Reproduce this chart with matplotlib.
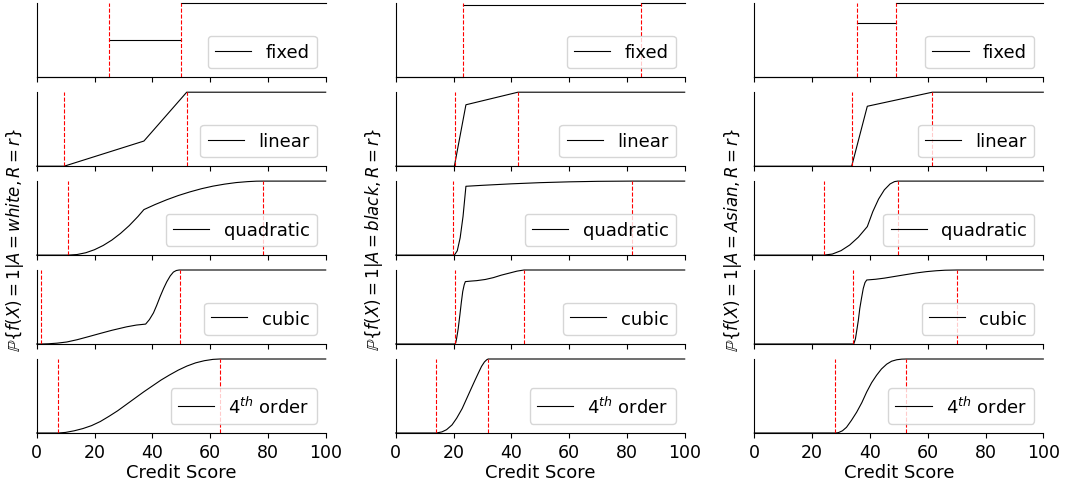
import matplotlib
matplotlib.use('Agg')
import matplotlib.pyplot as plt

NAN = float('nan')

CURVE_LABELS = ['fixed', 'linear', 'quadratic', 'cubic', r'$4^{th}$ order']
GROUPS = ['white', 'black', 'Asian']
X_TICKS = [0, 20, 40, 60, 80, 100]

# ---------------- white ----------------
WHITE_FIXED_X = [0, 25, NAN, 25, 50, NAN, 50, 100]
WHITE_FIXED_Y = [0, 0, NAN, 0.5, 0.5, NAN, 1, 1]
WHITE_LINEAR_X = [0, 9.5, 37.1, 51.9, 100]
WHITE_LINEAR_Y = [0, 0, 0.34, 1, 1]
WHITE_QUAD_X = [0, 11, 14, 17, 20, 23, 26, 29, 32, 35, 37.1, 41, 45, 49, 53, 57, 61, 65, 69, 73, 76, 78.4, 100]
WHITE_QUAD_Y = [0, 0, 0.008, 0.032, 0.073, 0.130, 0.203, 0.293, 0.398, 0.520, 0.615, 0.684, 0.748, 0.805,
                0.854, 0.897, 0.932, 0.959, 0.980, 0.993, 0.999, 1, 1]
WHITE_CUBIC_X = [0, 1.4, 4, 7, 10.4, 14, 18, 21.9, 26, 31.1, 34.5, 37.7, 39, 40.4, 41.5, 42.7, 43.9, 45, 46.2,
                 47.3, 48.3, 49.3, 100]
WHITE_CUBIC_Y = [0, 0, 0.003, 0.011, 0.027, 0.058, 0.1, 0.142, 0.185, 0.232, 0.256, 0.269, 0.33, 0.42, 0.52,
                 0.64, 0.75, 0.84, 0.92, 0.972, 0.993, 1, 1]
WHITE_QUART_X = [0, 7.5, 10, 13, 16, 19, 22, 25, 28, 31, 34, 37, 40, 43, 46, 49, 52, 55, 58, 61, 63.4, 100]
WHITE_QUART_Y = [0, 0, 0.008, 0.03, 0.06, 0.1, 0.155, 0.225, 0.3, 0.385, 0.47, 0.555, 0.635, 0.715, 0.785,
                 0.85, 0.905, 0.948, 0.977, 0.995, 1, 1]
WHITE_THRESHOLDS = [[25, 50], [9.5, 51.9], [10.9, 78.4], [1.4, 49.5], [7.5, 63.4]]

# ---------------- black ----------------
BLACK_FIXED_X = [0, 23.4, NAN, 23.4, 85, NAN, 85, 100]
BLACK_FIXED_Y = [0, 0, NAN, 0.977, 0.977, NAN, 1, 1]
BLACK_LINEAR_X = [0, 20.3, 24.3, 42.3, 100]
BLACK_LINEAR_Y = [0, 0, 0.83, 1, 1]
BLACK_QUAD_X = [0, 20.3, 21.3, 22.3, 23.3, 24.3, 30, 40, 50, 60, 70, 81.9, 100]
BLACK_QUAD_Y = [0, 0, 0.058, 0.233, 0.523, 0.93, 0.943, 0.963, 0.979, 0.990, 0.997, 1, 1]
BLACK_CUBIC_X = [0, 20.5, 20.8, 21.1, 21.6, 22.2, 22.7, 23.2, 23.7, 24.1, 26, 28, 31, 33.8, 36.5, 39.5, 42,
                 44.4, 100]
BLACK_CUBIC_Y = [0, 0, 0.02, 0.08, 0.2, 0.39, 0.56, 0.71, 0.8, 0.843, 0.85, 0.856, 0.872, 0.897, 0.93, 0.96,
                 0.985, 1, 1]
BLACK_QUART_X = [0, 14.1, 16, 17.6, 19.5, 21.1, 23, 24.5, 26, 27.4, 28.6, 29.7, 30.7, 31.5, 32, 100]
BLACK_QUART_Y = [0, 0, 0.015, 0.045, 0.11, 0.2, 0.33, 0.46, 0.59, 0.71, 0.81, 0.9, 0.96, 0.99, 1, 1]
BLACK_THRESHOLDS = [[23.4, 85.0], [20.5, 42.4], [19.9, 81.9], [20.5, 44.4], [14.1, 32.0]]

# ---------------- Asian ----------------
ASIAN_FIXED_X = [0, 35.6, NAN, 35.6, 49.1, NAN, 49.1, 100]
ASIAN_FIXED_Y = [0, 0, NAN, 0.73, 0.73, NAN, 1, 1]
ASIAN_LINEAR_X = [0, 33.7, 39.1, 61.6, 100]
ASIAN_LINEAR_Y = [0, 0, 0.81, 1, 1]
ASIAN_QUAD_X = [0, 24.1, 27, 30, 33, 36, 39.1, 41, 43, 45, 47, 48.5, 49.6, 100]
ASIAN_QUAD_Y = [0, 0, 0.014, 0.060, 0.136, 0.242, 0.385, 0.587, 0.757, 0.882, 0.962, 0.993, 1, 1]
ASIAN_CUBIC_X = [0, 34.4, 35, 35.4, 36, 36.5, 37.1, 37.7, 38.3, 38.9, 42, 45, 48.1, 52, 56, 59.6, 63, 66,
                 70.1, 100]
ASIAN_CUBIC_Y = [0, 0, 0.07, 0.17, 0.32, 0.48, 0.62, 0.75, 0.83, 0.865, 0.875, 0.89, 0.91, 0.935, 0.96,
                 0.978, 0.99, 0.997, 1, 1]
ASIAN_QUART_X = [0, 28, 29.1, 30.5, 31.9, 33.6, 35.4, 37.2, 38.9, 40.6, 42.3, 44, 45.8, 47.5, 49.3, 51,
                 52.6, 100]
ASIAN_QUART_Y = [0, 0, 0.005, 0.03, 0.077, 0.17, 0.28, 0.41, 0.555, 0.68, 0.78, 0.865, 0.93, 0.97, 0.99,
                 0.998, 1, 1]
ASIAN_THRESHOLDS = [[35.6, 49.1], [33.7, 61.6], [24.1, 49.6], [34.1, 70.1], [28.0, 52.6]]

COLUMNS = [
    ([(WHITE_FIXED_X, WHITE_FIXED_Y), (WHITE_LINEAR_X, WHITE_LINEAR_Y), (WHITE_QUAD_X, WHITE_QUAD_Y),
      (WHITE_CUBIC_X, WHITE_CUBIC_Y), (WHITE_QUART_X, WHITE_QUART_Y)], WHITE_THRESHOLDS),
    ([(BLACK_FIXED_X, BLACK_FIXED_Y), (BLACK_LINEAR_X, BLACK_LINEAR_Y), (BLACK_QUAD_X, BLACK_QUAD_Y),
      (BLACK_CUBIC_X, BLACK_CUBIC_Y), (BLACK_QUART_X, BLACK_QUART_Y)], BLACK_THRESHOLDS),
    ([(ASIAN_FIXED_X, ASIAN_FIXED_Y), (ASIAN_LINEAR_X, ASIAN_LINEAR_Y), (ASIAN_QUAD_X, ASIAN_QUAD_Y),
      (ASIAN_CUBIC_X, ASIAN_CUBIC_Y), (ASIAN_QUART_X, ASIAN_QUART_Y)], ASIAN_THRESHOLDS),
]

W, H = 1067, 489
fig = plt.figure(figsize=(W / 100, H / 100), dpi=100)

col_left_px = [36.7, 395.7, 754.3]
ax_w_px = 289.0
row_bottom_px = [78.3, 167.2, 256.1, 345.0, 434.0]  # from top
ax_h_px = 74.0

for c, (curves, thresholds) in enumerate(COLUMNS):
    for r in range(5):
        left = col_left_px[c] / W
        bottom = 1 - row_bottom_px[r] / H
        ax = fig.add_axes([left, bottom, ax_w_px / W, ax_h_px / H])
        x, y = curves[r]
        ax.plot(x, y, color='black', lw=0.8, label=CURVE_LABELS[r], clip_on=False)
        for t in thresholds[r]:
            ax.axvline(t, color='red', ls='--', lw=0.8)
        ax.set_xlim(0, 100)
        ax.set_ylim(0, 1)
        ax.set_yticks([])
        ax.set_xticks(X_TICKS)
        ax.spines['top'].set_visible(False)
        ax.spines['right'].set_visible(False)
        ax.tick_params(axis='x', labelsize=12.5)
        if r < 4:
            ax.tick_params(labelbottom=False)
        else:
            ax.set_xlabel('Credit Score', fontsize=13, labelpad=2)
        ax.legend(loc='lower right', fontsize=13)
    fig.text((col_left_px[c] - 21.5) / W, 1 - 240 / H,
             r'$\mathbb{P}\{f(X)=1|A=%s, R=r\}$' % GROUPS[c],
             rotation=90, ha='center', va='center', fontsize=12)

fig.savefig('out.png', dpi=100)
